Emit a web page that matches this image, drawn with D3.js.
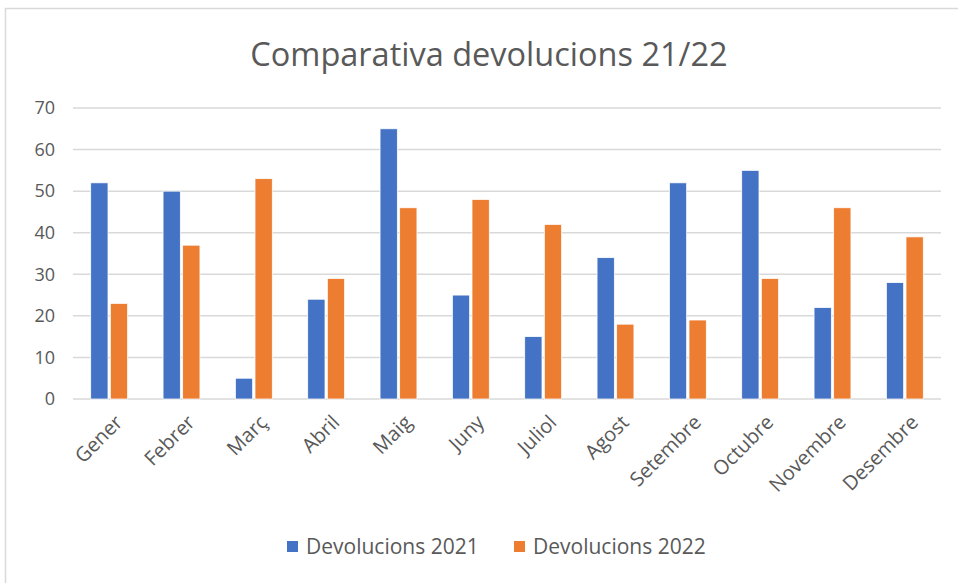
<!DOCTYPE html>
<html><head><meta charset="utf-8">
<script src="https://cdn.jsdelivr.net/npm/d3@7"></script>
<style>body{margin:0;background:#fff;}svg{display:block;}</style>
</head><body>
<svg id="c" width="958" height="583"></svg>
<script>
const categories = ["Gener","Febrer","Març","Abril","Maig","Juny","Juliol","Agost","Setembre","Octubre","Novembre","Desembre"];
const devolucions2021 = [52,50,5,24,65,25,15,34,52,55,22,28];
const devolucions2022 = [23,37,53,29,46,48,42,18,19,29,46,39];
const seriesNames = ["Devolucions 2021","Devolucions 2022"];
const yTicks = [0,10,20,30,40,50,60,70];
const colors = ["#4472C4","#ED7D31"];

const font = "'Open Sans', sans-serif";
const svg = d3.select("#c");
svg.append("rect").attr("x",5.5).attr("y",8.5).attr("width",1000).attr("height",1000)
  .attr("fill","#fff").attr("stroke","#d9d9d9").attr("stroke-width",1.5);

const m = {left:73, right:941, top:108, bottom:399};
const x0 = d3.scaleBand().domain(categories).range([m.left,m.right]).paddingInner(0).paddingOuter(0);
const x1 = d3.scaleBand().domain([0,1]).range([x0.bandwidth()*0.245, x0.bandwidth()*0.755]).paddingInner(0.12);
const y = d3.scaleLinear().domain([0,70]).range([m.bottom,m.top]);

// gridlines
svg.append("g").selectAll("line").data(yTicks).join("line")
  .attr("x1",m.left).attr("x2",m.right)
  .attr("y1",d=>y(d)).attr("y2",d=>y(d))
  .attr("stroke","#d9d9d9").attr("stroke-width",1.5);

// y tick labels
svg.append("g").selectAll("text").data(yTicks).join("text")
  .attr("x",55).attr("y",d=>y(d)).attr("dy","0.35em")
  .attr("text-anchor","end").attr("font-family",font).attr("font-size",18).attr("fill","#595959")
  .text(d=>d);

// bars
const data = categories.map((c,i)=>({c, v:[devolucions2021[i],devolucions2022[i]]}));
const g = svg.append("g").selectAll("g").data(data).join("g")
  .attr("transform",d=>`translate(${x0(d.c)},0)`);
g.selectAll("rect").data(d=>d.v.map((v,k)=>({v,k}))).join("rect")
  .attr("x",d=>x1(d.k)).attr("width",x1.bandwidth())
  .attr("y",d=>y(d.v)).attr("height",d=>y(0)-y(d.v))
  .attr("fill",d=>colors[d.k]).attr("stroke","#fff").attr("stroke-width",0.75);

// x labels
svg.append("g").selectAll("text").data(categories).join("text")
  .attr("transform",d=>`translate(${x0(d)+x0.bandwidth()/2+4},${413}) rotate(-45)`)
  .attr("text-anchor","end").attr("dy","0.75em").attr("font-family",font).attr("font-size",20).attr("fill","#595959")
  .text(d=>d);

// title
svg.append("text").attr("x",489).attr("y",66).attr("text-anchor","middle")
  .attr("font-family",font).attr("font-size",32.5).attr("fill","#595959")
  .text("Comparativa devolucions 21/22");

// legend
const leg = svg.append("g");
const legX = [287, 514];
seriesNames.forEach((n,k)=>{
  leg.append("rect").attr("x",legX[k]).attr("y",541).attr("width",11).attr("height",11).attr("fill",colors[k]);
  leg.append("text").attr("x",legX[k]+19).attr("y",547).attr("dy","0.35em")
    .attr("font-family",font).attr("font-size",21).attr("fill","#595959").text(n);
});
</script>
</body></html>
